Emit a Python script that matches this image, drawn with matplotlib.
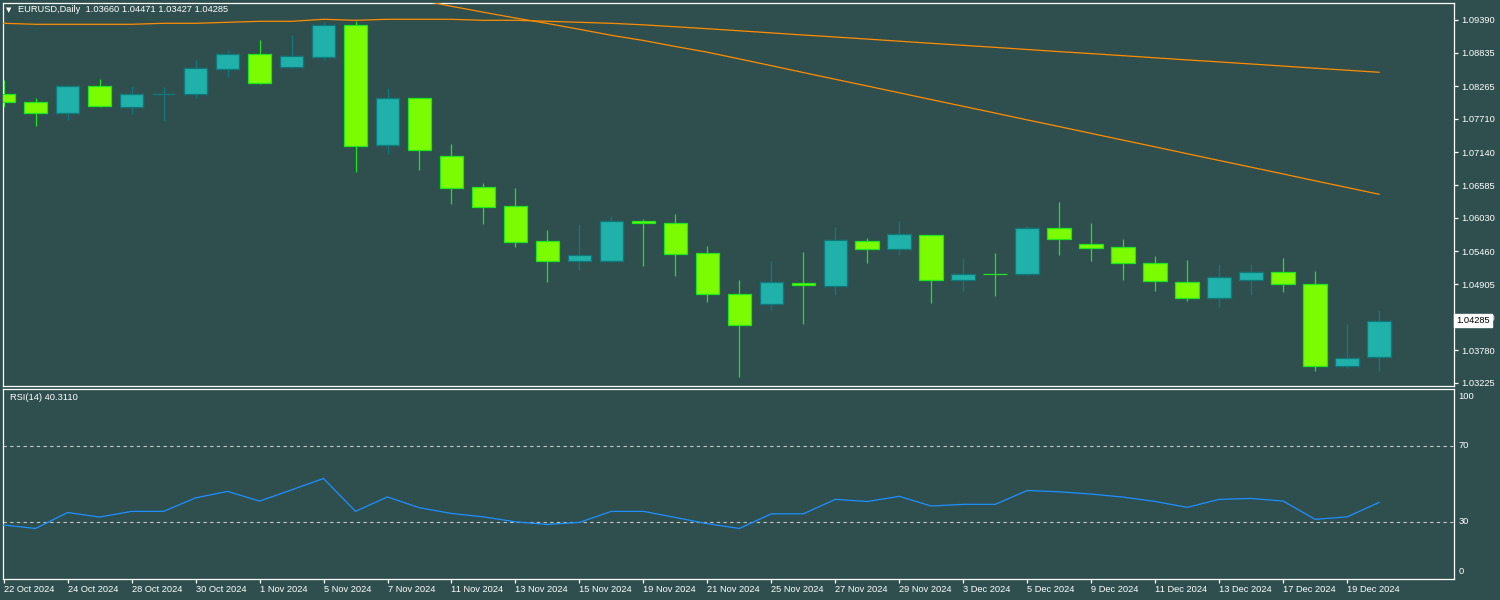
import matplotlib
matplotlib.use("Agg")
import matplotlib.pyplot as plt
import matplotlib.transforms as mtransforms
import numpy as np

# daily bars, 22 Oct 2024 - 20 Dec 2024
dates = ["22 Oct 2024", "23 Oct 2024", "24 Oct 2024", "25 Oct 2024", "28 Oct 2024",
         "29 Oct 2024", "30 Oct 2024", "31 Oct 2024", "1 Nov 2024", "4 Nov 2024",
         "5 Nov 2024", "6 Nov 2024", "7 Nov 2024", "8 Nov 2024", "11 Nov 2024",
         "12 Nov 2024", "13 Nov 2024", "14 Nov 2024", "15 Nov 2024", "18 Nov 2024",
         "19 Nov 2024", "20 Nov 2024", "21 Nov 2024", "22 Nov 2024", "25 Nov 2024",
         "26 Nov 2024", "27 Nov 2024", "28 Nov 2024", "29 Nov 2024", "2 Dec 2024",
         "3 Dec 2024", "4 Dec 2024", "5 Dec 2024", "6 Dec 2024", "9 Dec 2024",
         "10 Dec 2024", "11 Dec 2024", "12 Dec 2024", "13 Dec 2024", "16 Dec 2024",
         "17 Dec 2024", "18 Dec 2024", "19 Dec 2024", "20 Dec 2024"]

opens = [1.08128, 1.07992, 1.07805, 1.08264, 1.07918, 1.08128, 1.08138, 1.08563, 1.08813, 1.08587,
         1.08757, 1.09300, 1.07262, 1.08060, 1.07075, 1.06549, 1.06226, 1.05631, 1.05292, 1.05290,
         1.05975, 1.05937, 1.05428, 1.04731, 1.04561, 1.04918, 1.04867, 1.05631, 1.05496, 1.05733,
         1.04969, 1.05081, 1.05071, 1.05852, 1.05580, 1.05530, 1.05258, 1.04935, 1.04663, 1.04969,
         1.05105, 1.04901, 1.03508, 1.03660]
highs = [1.08371, 1.08065, 1.08286, 1.08388, 1.08269, 1.08252, 1.08711, 1.08880, 1.09050, 1.09135,
         1.09356, 1.09378, 1.08235, 1.08065, 1.07284, 1.06622, 1.06537, 1.05823, 1.05925, 1.06061,
         1.06010, 1.06095, 1.05552, 1.04974, 1.05297, 1.05450, 1.05874, 1.05688, 1.05976, 1.05740,
         1.05348, 1.05433, 1.05891, 1.06299, 1.05942, 1.05671, 1.05382, 1.05314, 1.05246, 1.05246,
         1.05348, 1.05127, 1.04227, 1.04471]
lows = [1.07918, 1.07595, 1.07697, 1.07918, 1.07799, 1.07680, 1.08070, 1.08427, 1.08308, 1.08580,
        1.08711, 1.06814, 1.07119, 1.06848, 1.06270, 1.05930, 1.05540, 1.04945, 1.05149, 1.05285,
        1.05217, 1.05047, 1.04606, 1.03332, 1.04470, 1.04232, 1.04725, 1.05268, 1.05404, 1.04589,
        1.04792, 1.04707, 1.05065, 1.05404, 1.05302, 1.04979, 1.04792, 1.04623, 1.04521, 1.04725,
        1.04776, 1.03434, 1.03475, 1.03427]
closes = [1.07992, 1.07805, 1.08264, 1.07935, 1.08128, 1.08130, 1.08570, 1.08807, 1.08325, 1.08773,
          1.09300, 1.07255, 1.08060, 1.07177, 1.06532, 1.06209, 1.05615, 1.05292, 1.05394, 1.05971,
          1.05937, 1.05411, 1.04731, 1.04205, 1.04935, 1.04884, 1.05648, 1.05506, 1.05750, 1.04969,
          1.05071, 1.05078, 1.05852, 1.05665, 1.05513, 1.05258, 1.04952, 1.04663, 1.05020, 1.05105,
          1.04901, 1.03508, 1.03644, 1.04285]

# two moving averages (orange)
ma_slow = [1.09334, 1.09317, 1.09317, 1.09317, 1.09317, 1.09334, 1.09334, 1.09351, 1.09368, 1.09368,
           1.09402, 1.09385, 1.09402, 1.09402, 1.09402, 1.09385, 1.09385, 1.09368, 1.09351, 1.09334,
           1.09308, 1.09275, 1.09242, 1.09207, 1.09171, 1.09135, 1.09101, 1.09066, 1.09030, 1.08994,
           1.08960, 1.08925, 1.08889, 1.08853, 1.08819, 1.08784, 1.08748, 1.08712, 1.08678, 1.08643,
           1.08607, 1.08571, 1.08537, 1.08502]
ma_fast = [np.nan] * 12 + [
           1.09832, 1.09730, 1.09623, 1.09522, 1.09424, 1.09331, 1.09232, 1.09130,
           1.09042, 1.08940, 1.08843, 1.08729, 1.08614, 1.08498, 1.08383, 1.08269, 1.08154, 1.08038,
           1.07924, 1.07809, 1.07693, 1.07580, 1.07464, 1.07349, 1.07235, 1.07119, 1.07004, 1.06890,
           1.06775, 1.06659, 1.06545, 1.06430]

rsi = [28.4, 26.6, 35.0, 32.6, 35.6, 35.6, 42.7, 46.1, 41.0, 46.9,
       52.9, 35.6, 43.2, 37.5, 34.5, 32.7, 30.1, 28.7, 29.8, 35.6,
       35.6, 32.4, 29.1, 26.6, 34.3, 34.3, 41.9, 40.8, 43.5, 38.4,
       39.3, 39.3, 46.6, 45.9, 44.7, 43.1, 40.8, 37.7, 41.9, 42.4,
       41.0, 31.4, 32.7, 40.311]

price_ticks = [1.09390, 1.08835, 1.08265, 1.07710, 1.07140, 1.06585, 1.06030,
               1.05460, 1.04905, 1.04340, 1.03780, 1.03225]
rsi_levels = [70, 30]
rsi_labels = [100, 70, 30, 0]

BG = "#2f4f4f"
BULL_FILL, BULL_EDGE = "#20b2aa", "#10787a"
BEAR_FILL, BEAR_EDGE = "#7cfc00", "#1ee61e"
ORANGE = "#ff8c00"
RSI_BLUE = "#1e90ff"
FONT = "Liberation Sans"
FS = 6.7

W, H = 1500, 600


def px_rect(l, t, r, b):
    return [l / W, 1 - b / H, (r - l) / W, (b - t) / H]


fig = plt.figure(figsize=(15, 6), dpi=100, facecolor=BG)
ax = fig.add_axes(px_rect(3, 3, 1454, 386))
ax2 = fig.add_axes(px_rect(3, 389, 1454, 579))

for a in (ax, ax2):
    a.set_facecolor(BG)
    for s in a.spines.values():
        s.set_color("white")
        s.set_linewidth(0.9)
    a.set_xlim(-0.02, 45.34)

x = np.arange(len(dates))
o, h, l, c = map(np.array, (opens, highs, lows, closes))
up = c >= o

# wicks
ax.vlines(x[up], l[up], h[up], color=BULL_EDGE, lw=0.9, zorder=2)
ax.vlines(x[~up], l[~up], h[~up], color=BEAR_EDGE, lw=0.9, zorder=2)
# bodies
body = np.maximum(np.abs(c - o), 0.00002)
ax.bar(x[up], body[up], bottom=np.minimum(o, c)[up], width=0.74,
       color=BULL_FILL, edgecolor=BULL_EDGE, linewidth=0.9, zorder=3)
ax.bar(x[~up], body[~up], bottom=np.minimum(o, c)[~up], width=0.74,
       color=BEAR_FILL, edgecolor=BEAR_EDGE, linewidth=0.9, zorder=3)

ax.plot(x, ma_slow, color=ORANGE, lw=0.9, zorder=4)
ax.plot(x, ma_fast, color=ORANGE, lw=0.9, zorder=4)

ax.set_ylim(1.031739, 1.096787)
ax.set_xticks([])
ax.yaxis.tick_right()
ax.set_yticks(price_ticks)
ax.set_yticklabels([f"{p:.5f}" for p in price_ticks])
ax.tick_params(axis="y", colors="white", length=3, width=0.9, pad=2,
               labelsize=FS, labelcolor="white")
for t in ax.get_yticklabels():
    t.set_family(FONT)

# current price marker
ax.text(1.0015, closes[-1], f"{closes[-1]:.5f}", transform=ax.get_yaxis_transform(),
        ha="left", va="center", fontsize=FS, family=FONT, color="black", zorder=10,
        clip_on=False,
        bbox=dict(boxstyle="square,pad=0.25", facecolor="white", edgecolor="white"))

# header
fig.text(6 / W, 1 - 10 / H, "\u25bc", fontsize=5, color="white", va="center", ha="left",
         family="DejaVu Sans")
fig.text(18 / W, 1 - 10 / H, f"EURUSD,Daily  {opens[-1]:.5f} {highs[-1]:.5f} {lows[-1]:.5f} {closes[-1]:.5f}",
         fontsize=FS, color="white", va="center", ha="left", family=FONT)

# RSI panel
ax2.plot(x, rsi, color=RSI_BLUE, lw=0.9, zorder=3)
for lv in rsi_levels:
    ax2.axhline(lv, color="#c8c8c8", lw=0.8, ls=(0, (3, 3)), zorder=2)
ax2.set_ylim(0, 100)
ax2.set_yticks([])
tr = mtransforms.blended_transform_factory(ax2.transAxes, ax2.transData)
for lv in rsi_labels:
    va = "top" if lv == 100 else ("bottom" if lv == 0 else "center")
    yv = lv - 1.5 if lv == 100 else (lv + 1.5 if lv == 0 else lv)
    ax2.text(1.003, yv, str(lv), transform=tr, ha="left", va=va, fontsize=FS,
             family=FONT, color="white", clip_on=False)
ax2.text(7 / 1451, 1 - 8 / 190, f"RSI(14) {rsi[-1]:.4f}", transform=ax2.transAxes,
         ha="left", va="center", fontsize=FS, family=FONT, color="white")

ax2.set_xticks(x[::2])
ax2.set_xticklabels(dates[::2])
ax2.tick_params(axis="x", colors="white", length=3, width=0.9, pad=1.5,
                labelsize=FS, labelcolor="white")
for t in ax2.get_xticklabels():
    t.set_family(FONT)
    t.set_horizontalalignment("left")

fig.savefig("out.png", dpi=100, facecolor=BG)
